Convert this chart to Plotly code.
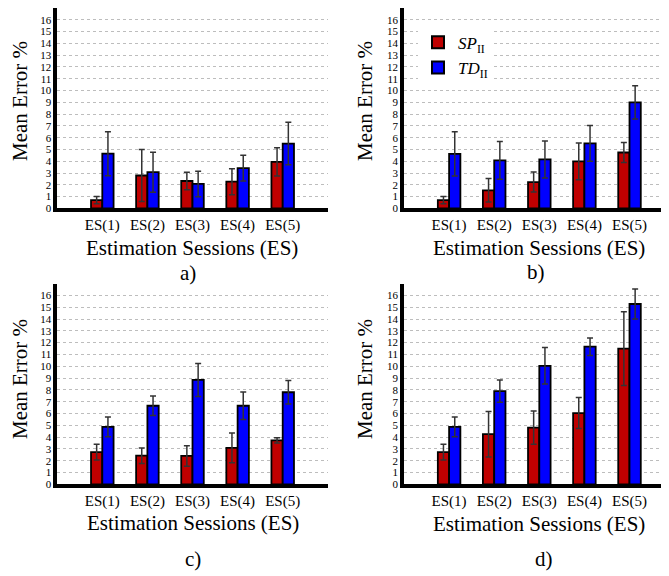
import plotly.graph_objects as go

PAGE_W, PAGE_H = 669, 576
OFF = 8  # default page margin around the plot div
W, H = PAGE_W - OFF, PAGE_H - OFF
FONT = "'Liberation Serif', 'Times New Roman', Times, serif"

categories = ["ES(1)", "ES(2)", "ES(3)", "ES(4)", "ES(5)"]
series_names = ["<i>SP</i><sub>II</sub>", "<i>TD</i><sub>II</sub>"]
series_colors = ["#c00000", "#0000ff"]
panel_labels = ["a)", "b)", "c)", "d)"]
y_ticks = list(range(0, 17))

# panel a
a_sp = [0.70, 2.79, 2.32, 2.26, 3.94]
a_sp_err = [0.30, 2.20, 0.75, 1.10, 1.20]
a_td = [4.64, 3.07, 2.07, 3.41, 5.50]
a_td_err = [1.87, 1.70, 1.08, 1.09, 1.80]
# panel b
b_sp = [0.70, 1.53, 2.23, 3.98, 4.74]
b_sp_err = [0.30, 1.00, 0.85, 1.56, 0.84]
b_td = [4.62, 4.07, 4.15, 5.52, 9.00]
b_td_err = [1.87, 1.60, 1.57, 1.52, 1.41]
# panel c
c_sp = [2.74, 2.43, 2.41, 3.10, 3.72]
c_sp_err = [0.67, 0.65, 0.87, 1.26, 0.22]
c_td = [4.87, 6.66, 8.84, 6.66, 7.80]
c_td_err = [0.84, 0.82, 1.39, 1.16, 1.00]
# panel d
d_sp = [2.74, 4.25, 4.81, 6.04, 11.50]
d_sp_err = [0.67, 1.93, 1.41, 1.31, 3.12]
d_td = [4.87, 7.89, 10.04, 11.66, 15.27]
d_td_err = [0.84, 0.94, 1.55, 0.74, 1.26]

panels = [
    (a_sp, a_sp_err, a_td, a_td_err),
    (b_sp, b_sp_err, b_td, b_td_err),
    (c_sp, c_sp_err, c_td, c_td_err),
    (d_sp, d_sp_err, d_td, d_td_err),
]


def px(xp):
    return (xp - OFF) / W


def py(yp):
    return 1 - (yp - OFF) / H


# layout geometry in page pixels
UNIT_X = 45.1
left_px = [57.2, 404.0, 57.2, 404.0]
right_px = [327.8, 669.0, 327.8, 669.0]
zero_px = [210.5, 210.5, 489.5, 489.5]
top_px = [7.5, 7.5, 286.5, 286.5]
ytitle_x = [20, 365, 20, 365]
ytitle_y = [102, 102, 383, 383]
xtitle_x = [192, 539, 193, 539]
xtitle_y = [251, 251, 529, 530]
plabel_x = [188, 536, 193, 544]
plabel_y = [276, 275, 565, 565]

fig = go.Figure()
xs = list(range(len(categories)))

for i, (sp, sp_e, td, td_e) in enumerate(panels):
    ax = "" if i == 0 else str(i + 1)
    for j, (vals, errs) in enumerate([(sp, sp_e), (td, td_e)]):
        fig.add_trace(go.Bar(
            x=xs, y=vals, name=series_names[j],
            marker=dict(color=series_colors[j], line=dict(color="black", width=1.8)),
            error_y=dict(type="data", array=errs, visible=True,
                         color="#333333", thickness=1.5, width=3),
            xaxis="x" + ax, yaxis="y" + ax,
            showlegend=(i == 1), legendrank=j,
        ))
    x0 = max(px(left_px[i]), 0)
    x1 = min(px(right_px[i]), 1)
    rng_right = -1 + (min(right_px[i], PAGE_W) - left_px[i]) / UNIT_X
    y0 = py(zero_px[i])
    y1 = min(py(top_px[i]), 1)
    fig.update_layout(**{
        "xaxis" + ax: dict(
            domain=[x0, x1], range=[-1, rng_right], anchor="y" + ax,
            tickmode="array", tickvals=xs, ticktext=categories,
            showgrid=False, zeroline=False, showline=True,
            linecolor="black", linewidth=3.5, ticks="",
            tickfont=dict(family=FONT, size=15, color="black"),
        ),
        "yaxis" + ax: dict(
            domain=[y0, y1], range=[0, 17], anchor="x" + ax,
            tickmode="array", tickvals=y_ticks,
            showgrid=True, gridcolor="#bdbdbd", gridwidth=1, griddash="dot",
            zeroline=False, showline=True, linecolor="black", linewidth=3.5,
            ticks="", tickfont=dict(family=FONT, size=11, color="black"),
        ),
    })
    fig.add_annotation(text="Mean Error %", xref="paper", yref="paper",
                       x=px(ytitle_x[i]), y=py(ytitle_y[i]),
                       xanchor="center", yanchor="middle", textangle=-90,
                       showarrow=False, font=dict(family=FONT, size=21, color="black"))
    fig.add_annotation(text="Estimation Sessions (ES)", xref="paper", yref="paper",
                       x=px(xtitle_x[i]), y=py(xtitle_y[i]),
                       xanchor="center", yanchor="middle",
                       showarrow=False, font=dict(family=FONT, size=21, color="black"))
    fig.add_annotation(text=panel_labels[i], xref="paper", yref="paper",
                       x=px(plabel_x[i]), y=py(plabel_y[i]),
                       xanchor="center", yanchor="middle",
                       showarrow=False, font=dict(family=FONT, size=21, color="black"))

fig.update_layout(
    width=W, height=H, margin=dict(l=0, r=0, t=0, b=0),
    paper_bgcolor="white", plot_bgcolor="white",
    font=dict(family=FONT, color="black"),
    barmode="group", bargap=0.5, bargroupgap=0,
    legend=dict(x=px(418), y=py(25), xanchor="left", yanchor="top",
                bgcolor="white", font=dict(family=FONT, size=17, color="black"),
                traceorder="normal", itemsizing="constant", tracegroupgap=0),
)

fig.write_html("out.html")
